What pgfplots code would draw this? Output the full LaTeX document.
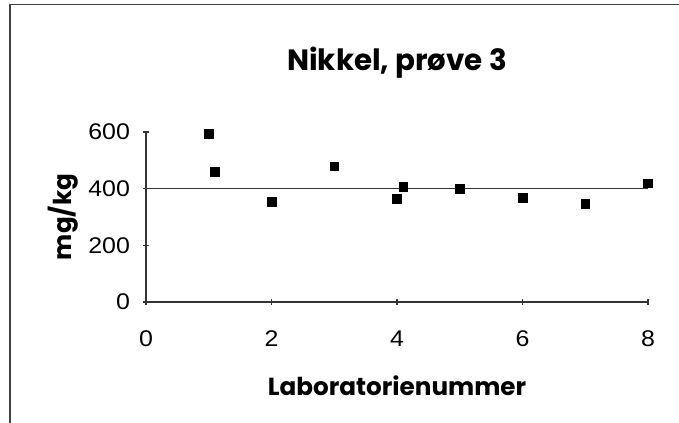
\documentclass[border=0pt]{standalone}
\usepackage{pgfplots}
\pgfplotsset{compat=1.18}
\usepackage{fontspec}
\setmainfont{Poppins}
\newfontfamily\tickfont[FakeStretch=1.1]{Liberation Sans}

\begin{document}
\begin{tikzpicture}
\useasboundingbox (0,0) rectangle (509.25pt,317.25pt);
% outer chart frame (only top and left visible in the scan)
\draw[line width=1.1pt, black!75] (7.5pt,0) -- (7.5pt,313.9pt) -- (509.25pt,313.9pt);
\begin{axis}[
    at={(109.5pt,90.75pt)}, anchor=south west,
    scale only axis,
    width=376.5pt, height=127.5pt,
    xmin=0, xmax=8, ymin=0, ymax=600,
    axis lines=left,
    axis line style={-, black!80, line width=0.8pt},
    xtick={0,2,4,6,8},
    ytick={0,200,400,600},
    tick align=center,
    major tick length=4pt,
    tick style={black!80, line width=0.8pt},
    /pgf/number format/assume math mode=true,
    tick label style={font=\tickfont\fontsize{17}{17}\selectfont},
    xticklabel style={yshift=-16pt},
    yticklabel style={xshift=-6.5pt},
    clip=false,
    title={Nikkel, prøve 3},
    title style={at={(axis description cs:0.5,1.36)}, anchor=center,
        font=\bfseries\fontsize{22}{22}\selectfont},
    xlabel={Laboratorienummer},
    xlabel style={at={(axis description cs:0.5,-0.49)}, anchor=center,
        font=\bfseries\fontsize{18.5}{18.5}\selectfont},
    ylabel={mg/kg},
    ylabel style={at={(axis description cs:-0.165,0.5)}, anchor=center,
        font=\bfseries\fontsize{18.5}{18.5}\selectfont},
]
\addplot[black!80, line width=0.8pt] coordinates {(0,402) (8,402)};
\addplot[only marks, mark=square*, mark size=3.3pt, black] coordinates {
    (1.0,595) (1.1,460) (2,354) (3,479) (4,365)
    (4.1,407) (5,399) (6,369) (7,348) (8,419)
};
\end{axis}
\end{tikzpicture}
\end{document}
